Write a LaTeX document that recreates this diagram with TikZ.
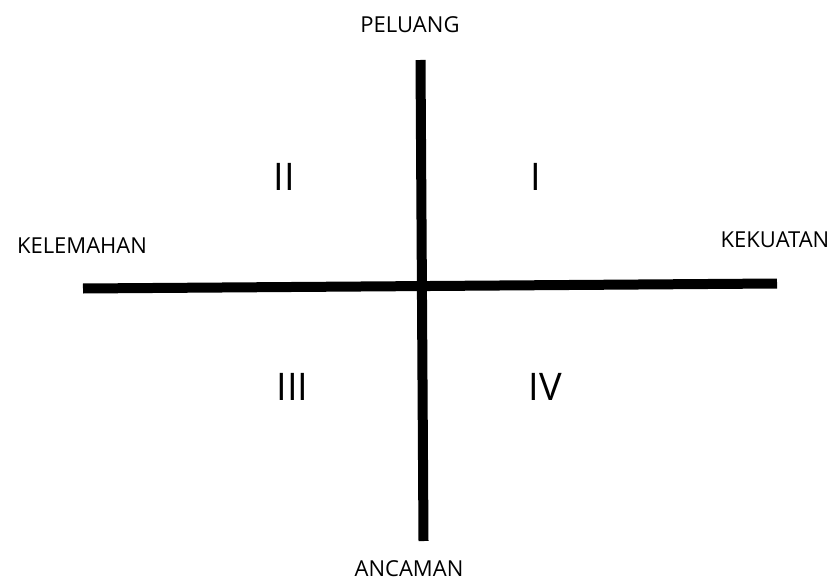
\documentclass[tikz,border=0pt]{standalone}
\usepackage{fontspec}
\setmainfont{Open Sans}
\usepackage{tikz}
\usetikzlibrary{positioning,calc}
\tikzset{
    axis/.style = {line width=10pt, black},
    axislabel/.style = {font=\fontsize{22}{26}\selectfont, inner sep=0pt},
    quadrant/.style = {font=\fontsize{38}{44}\selectfont, inner sep=0pt},
}
\begin{document}
\begin{tikzpicture}[x=1pt, y=-1pt]
\useasboundingbox (0,0) rectangle (835,583);

% End points of the two axes
\coordinate (top) at (420.5,60);
\coordinate (bottom) at (423.5,541);
\coordinate (left) at (83,288.5);
\coordinate (right) at (777,283.5);

% Axes
\draw[axis] (top) -- (bottom);
\draw[axis] (left) -- (right);

% Axis labels
\node[axislabel] (peluang) at (410,25) {PELUANG};
\node[axislabel] (ancaman) at (409,569) {ANCAMAN};
\node[axislabel] (kelemahan) at (82,246) {KELEMAHAN};
\node[axislabel] (kekuatan) at (775,240) {KEKUATAN};

% Quadrants
\node[quadrant] (q1) at (535.5,177) {I};
\node[quadrant] (q2) at (284,177) {II};
\node[quadrant] (q3) at (292.5,387) {III};
\node[quadrant] (q4) at (545,387) {IV};

\end{tikzpicture}
\end{document}
